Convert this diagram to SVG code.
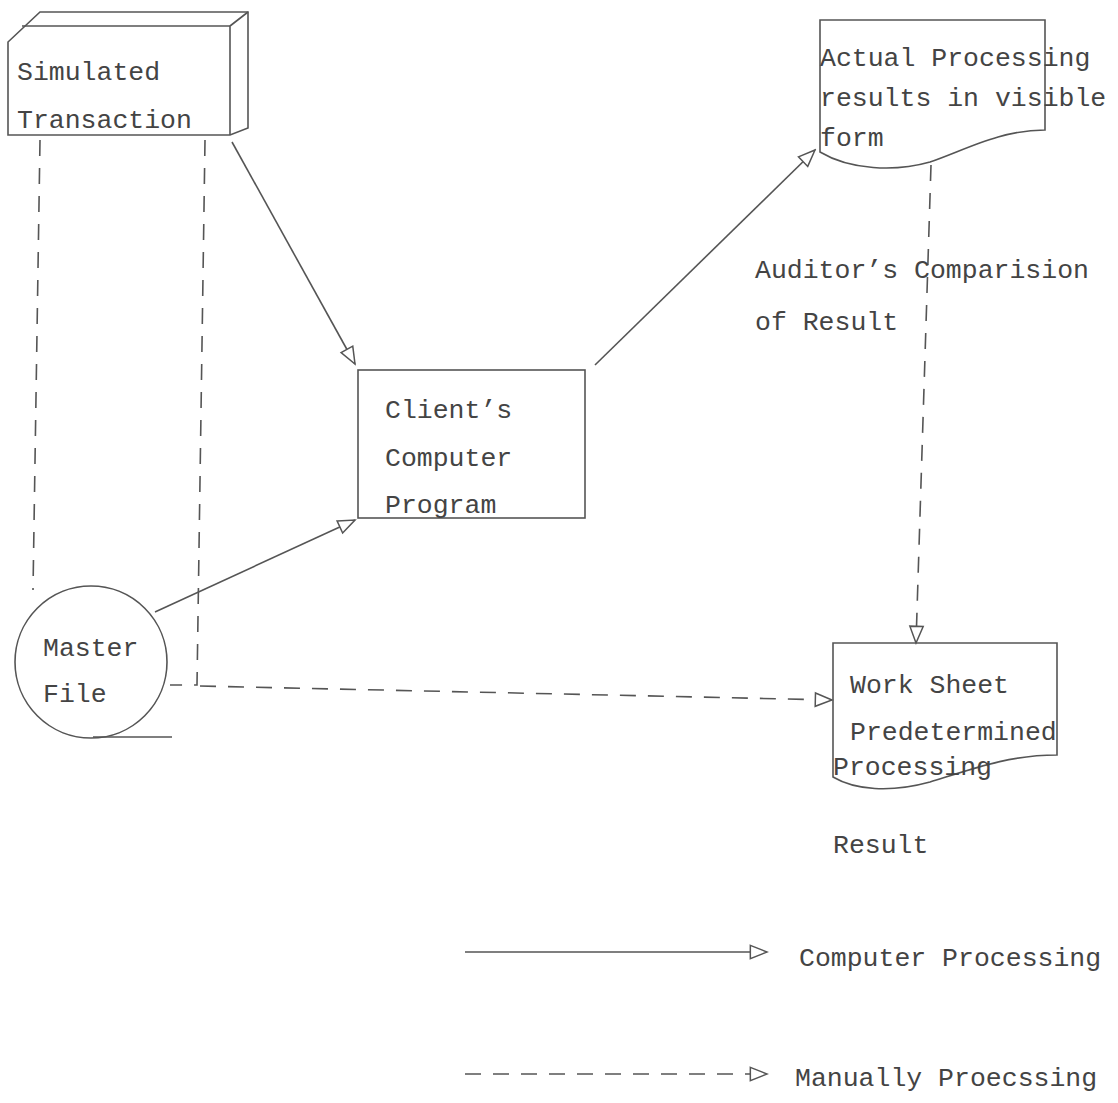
<svg xmlns="http://www.w3.org/2000/svg" width="1118" height="1103" viewBox="0 0 1118 1103">
  <style>
    .t { font-family: "Liberation Mono", "DejaVu Sans Mono", monospace; font-size: 26.5px; fill: #444; }
    .shape { fill: none; stroke: #555; stroke-width: 1.6; }
    .solid { fill: none; stroke: #555; stroke-width: 1.6; }
    .dash { fill: none; stroke: #555; stroke-width: 1.6; stroke-dasharray: 16 12; }
  </style>
  <defs>
    <marker id="open" viewBox="0 0 12 10" refX="11" refY="5" markerWidth="20" markerHeight="17" markerUnits="userSpaceOnUse" orient="auto">
      <path d="M1,1 L11,5 L1,9 Z" fill="#fff" stroke="#555" stroke-width="0.9"/>
    </marker>
  </defs>
  <rect width="1118" height="1103" fill="#fff"/>

  <!-- connectors -->
  <g id="connectors">
    <!-- computer processing flows -->
    <line class="solid" x1="232" y1="142" x2="355" y2="364" marker-end="url(#open)"/>
    <line class="solid" x1="155" y1="612" x2="355" y2="520" marker-end="url(#open)"/>
    <line class="solid" x1="595" y1="365" x2="815" y2="150" marker-end="url(#open)"/>
    <!-- manual flows -->
    <polyline class="dash" points="40,140 33,590"/>
    <polyline class="dash" points="205,140 197,685 170,685"/>
    <line class="dash" x1="200" y1="686" x2="832" y2="700" marker-end="url(#open)"/>
    <line class="dash" x1="931" y1="165" x2="916" y2="643" marker-end="url(#open)"/>
  </g>

  <!-- Simulated Transaction (card) -->
  <g id="simulated-transaction">
    <path class="shape" d="M8,135 L8,42 L40,12 L248,12 L248,128 L230,135 Z"/>
    <path class="shape" d="M22,26 L230,26 L230,135 M230,26 L248,12"/>
    <text class="t" x="17" y="80">Simulated</text>
    <text class="t" x="17" y="128">Transaction</text>
  </g>

  <!-- Client's Computer Program -->
  <g id="client-program">
    <rect class="shape" x="358" y="370" width="227" height="148"/>
    <text class="t" x="385" y="418">Client’s</text>
    <text class="t" x="385" y="466">Computer</text>
    <text class="t" x="385" y="513">Program</text>
  </g>

  <!-- Actual Processing results (document) -->
  <g id="actual-results">
    <path class="shape" d="M820,152 L820,20 L1045,20 L1045,130 C1000,130 965,150 930,162 C895,172 850,170 820,152 Z"/>
    <text class="t" x="820" y="66">Actual Processing</text>
    <text class="t" x="820" y="106">results in visible</text>
    <text class="t" x="820" y="146">form</text>
  </g>

  <!-- Auditor's comparison label -->
  <g id="comparison-label">
    <text class="t" x="755" y="278">Auditor’s Comparision</text>
    <text class="t" x="755" y="330">of Result</text>
  </g>

  <!-- Master File (disk) -->
  <g id="master-file">
    <circle class="shape" cx="91" cy="662" r="76"/>
    <line class="shape" x1="93" y1="737" x2="172" y2="737"/>
    <text class="t" x="43" y="656">Master</text>
    <text class="t" x="43" y="702">File</text>
  </g>

  <!-- Work Sheet (document) -->
  <g id="work-sheet">
    <path class="shape" d="M833,777 L833,643 L1057,643 L1057,755 C1010,755 975,768 930,782 C890,793 855,790 833,777 Z"/>
    <text class="t" x="850" y="693">Work Sheet</text>
    <text class="t" x="850" y="740">Predetermined</text>
    <text class="t" x="833" y="775">Processing</text>
    <text class="t" x="833" y="853">Result</text>
  </g>

  <!-- legend -->
  <g id="legend">
    <line class="solid" x1="465" y1="952" x2="767" y2="952" marker-end="url(#open)"/>
    <text class="t" x="799" y="966">Computer Processing</text>
    <line class="dash" x1="465" y1="1074" x2="767" y2="1074" marker-end="url(#open)"/>
    <text class="t" x="795" y="1086">Manually Proecssing</text>
  </g>
</svg>
